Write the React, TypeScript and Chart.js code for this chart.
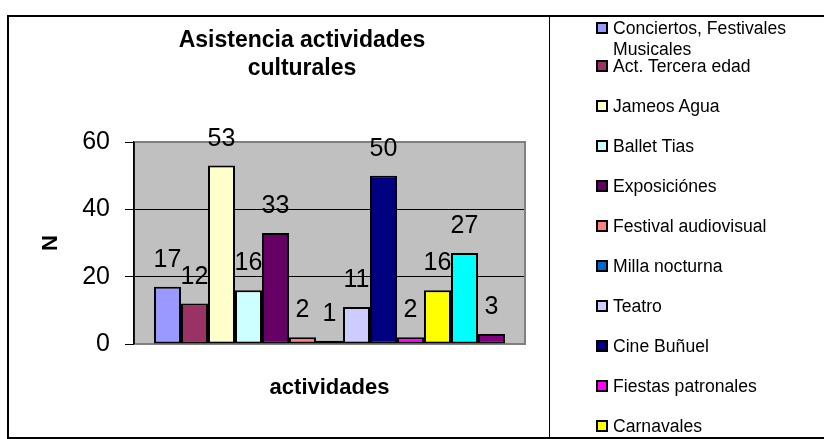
import React, { useEffect, useRef } from "react";
import { Chart, registerables } from "chart.js";

Chart.register(...registerables);

const categories = [""];
const seriesNames = [
  "Conciertos, Festivales Musicales",
  "Act. Tercera edad",
  "Jameos Agua",
  "Ballet Tias",
  "Exposiciónes",
  "Festival audiovisual",
  "Milla nocturna",
  "Teatro",
  "Cine Buñuel",
  "Fiestas patronales",
  "Carnavales",
  "Día de Canarias",
  "Otras actividades",
];
const seriesValues = [17, 12, 53, 16, 33, 2, 1, 11, 50, 2, 16, 27, 3];
const seriesColors = [
  "#9999FF",
  "#993366",
  "#FFFFCC",
  "#CCFFFF",
  "#660066",
  "#FF8080",
  "#0066CC",
  "#CCCCFF",
  "#000080",
  "#FF00FF",
  "#FFFF00",
  "#00FFFF",
  "#800080",
];
const yTicks = [0, 20, 40, 60];
const titleLines = ["Asistencia actividades", "culturales"];
const yAxisTitle = "N";
const xAxisTitle = "actividades";

const FONT = "'Liberation Sans', Arial, Helvetica, sans-serif";

const plotFrame = {
  id: "plotFrame",
  beforeDraw(chart: any) {
    const { ctx, chartArea } = chart;
    const { left, top, right, bottom } = chartArea;
    ctx.save();
    ctx.fillStyle = "#FFFFFF";
    ctx.fillRect(0, 0, chart.width, chart.height);
    ctx.fillStyle = "#C0C0C0";
    ctx.fillRect(left, top, right - left, bottom - top);
    ctx.restore();
  },
  beforeDatasetsDraw(chart: any) {
    const { ctx, chartArea } = chart;
    const { left, top, right, bottom } = chartArea;
    ctx.save();
    ctx.strokeStyle = "#808080";
    ctx.lineWidth = 2;
    ctx.beginPath();
    ctx.moveTo(left, top);
    ctx.lineTo(right, top);
    ctx.lineTo(right, bottom);
    ctx.lineTo(left, bottom);
    ctx.stroke();
    ctx.strokeStyle = "#000000";
    ctx.lineWidth = 1.5;
    ctx.beginPath();
    ctx.moveTo(left, top);
    ctx.lineTo(left, bottom);
    ctx.stroke();
    ctx.restore();
  },
  afterDatasetsDraw(chart: any) {
    const { ctx } = chart;
    ctx.save();
    ctx.fillStyle = "#000";
    ctx.textAlign = "center";
    ctx.textBaseline = "alphabetic";
    ctx.font = `25px ${FONT}`;
    chart.data.datasets.forEach((ds: any, i: number) => {
      const meta = chart.getDatasetMeta(i);
      meta.data.forEach((el: any, j: number) => {
        ctx.fillText(String(ds.data[j]), el.x, el.y - 20);
      });
    });
    ctx.font = `bold 23px ${FONT}`;
    ctx.fillText(titleLines[0], 302, 47);
    ctx.fillText(titleLines[1], 302, 75);
    ctx.restore();
  },
};

export default function App() {
  const canvasRef = useRef<HTMLCanvasElement | null>(null);

  useEffect(() => {
    if (!canvasRef.current) return;
    const chart = new Chart(canvasRef.current, {
      type: "bar",
      data: {
        labels: categories,
        datasets: seriesNames.map((name, i) => ({
          label: name,
          data: [seriesValues[i]],
          backgroundColor: seriesColors[i],
          borderColor: "#000000",
          borderWidth: 2,
          borderSkipped: false,
          categoryPercentage: 0.8977,
          barPercentage: 1.0,
        })),
      },
      options: {
        animation: false,
        responsive: false,
        devicePixelRatio: 1,
        layout: { padding: { left: 0, top: 142, right: 299, bottom: 0 } },
        plugins: {
          legend: { display: false },
          title: { display: false },
          tooltip: { enabled: false },
        },
        scales: {
          x: {
            grid: { display: false },
            border: { display: false },
            ticks: { display: false },
            title: {
              display: true,
              text: xAxisTitle,
              color: "#000",
              font: { family: FONT, size: 22, weight: "bold" },
              padding: { top: 0, bottom: 38 },
            },
            afterFit: (scale: any) => {
              scale.height = 95;
            },
          },
          y: {
            min: 0,
            max: 60,
            afterBuildTicks: (scale: any) => {
              scale.ticks = yTicks.map((v) => ({ value: v }));
            },
            ticks: {
              color: "#000",
              font: { family: FONT, size: 25 },
              padding: 15,
            },
            grid: {
              color: "#000",
              lineWidth: 1,
              tickLength: 9,
              tickColor: "#000",
            },
            border: { display: true, color: "#000", width: 1.5 },
            title: {
              display: true,
              text: yAxisTitle,
              color: "#000",
              font: { family: FONT, size: 22, weight: "bold" },
              padding: { top: 38, bottom: 0 },
            },
            afterFit: (scale: any) => {
              scale.width = 134;
            },
          },
        },
      },
      plugins: [plotFrame],
    });
    return () => chart.destroy();
  }, []);

  const capTops = seriesNames.map((_, i) => (i === 0 ? 22 : 60 + 40 * (i - 1)));

  return (
    <div
      style={{
        position: "fixed",
        left: 0,
        top: 0,
        width: 824,
        height: 439,
        overflow: "hidden",
        background: "#fff",
        fontFamily: FONT,
      }}
    >
      <canvas
        ref={canvasRef}
        width={824}
        height={439}
        style={{ position: "absolute", left: 0, top: 0, width: 824, height: 439 }}
      />
      <div
        style={{
          position: "absolute",
          left: 7,
          top: 15,
          width: 900,
          height: 424,
          boxSizing: "border-box",
          borderTop: "2px solid #000",
          borderLeft: "2px solid #000",
          borderBottom: "2px solid #000",
        }}
      />
      <div
        style={{
          position: "absolute",
          left: 549,
          top: 15,
          width: 1,
          height: 424,
          background: "#000",
        }}
      />
      <div
        style={{
          position: "absolute",
          left: 550,
          top: 17,
          width: 274,
          height: 420,
          overflow: "hidden",
        }}
      >
        {seriesNames.map((name, i) => (
          <React.Fragment key={name}>
            <div
              style={{
                position: "absolute",
                left: 46,
                top: capTops[i] - 17,
                width: 12,
                height: 12,
                boxSizing: "border-box",
                border: "2px solid #000",
                background: seriesColors[i],
              }}
            />
            <div
              style={{
                position: "absolute",
                left: 63,
                top: capTops[i] - 4 - 17,
                width: 190,
                fontSize: 17.6,
                lineHeight: "21px",
                color: "#000",
                whiteSpace: "normal",
              }}
            >
              {name}
            </div>
          </React.Fragment>
        ))}
      </div>
    </div>
  );
}
